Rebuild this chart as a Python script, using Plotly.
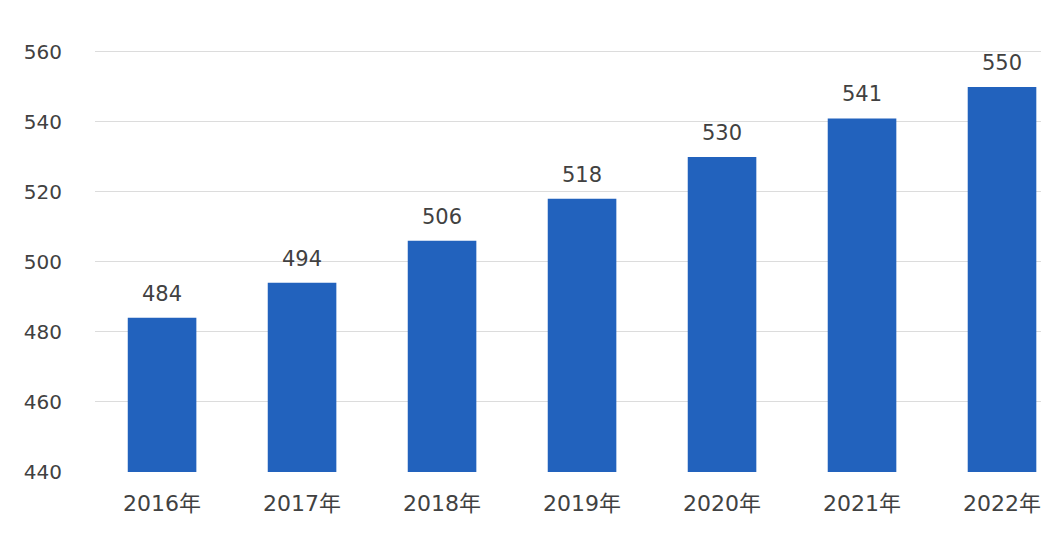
import plotly.graph_objects as go

years = ["2016年", "2017年", "2018年", "2019年", "2020年", "2021年", "2022年"]
values = [484, 494, 506, 518, 530, 541, 550]
y_ticks = [440, 460, 480, 500, 520, 540, 560]

font_family = "DejaVu Sans, Noto Sans CJK SC, sans-serif"
text_color = "#414141"

fig = go.Figure()
fig.add_trace(go.Bar(
    x=years, y=values,
    marker=dict(color="#2262bd", line=dict(width=0)),
    width=0.49,
))

for yr, v in zip(years, values):
    fig.add_annotation(x=yr, y=v, text=str(v), showarrow=False,
                       yanchor="bottom", yshift=10,
                       font=dict(size=21, color=text_color, family=font_family))

fig.update_layout(
    width=1049, height=541,
    margin=dict(l=87, r=12, t=40, b=77),
    paper_bgcolor="white", plot_bgcolor="white",
    showlegend=False,
    font=dict(family=font_family, color=text_color, size=20),
    xaxis=dict(range=[-0.479, 6.307], showgrid=False, showline=False,
               ticks="", tickfont=dict(size=22, color=text_color),
               ticklabelstandoff=16),
    yaxis=dict(range=[439.9, 561.14], tickvals=y_ticks, showgrid=True,
               gridcolor="#dcdcdc", gridwidth=1, zeroline=False, showline=False,
               ticks="", tickfont=dict(size=20, color=text_color),
               ticklabelstandoff=32),
)

fig.write_html("out.html")
